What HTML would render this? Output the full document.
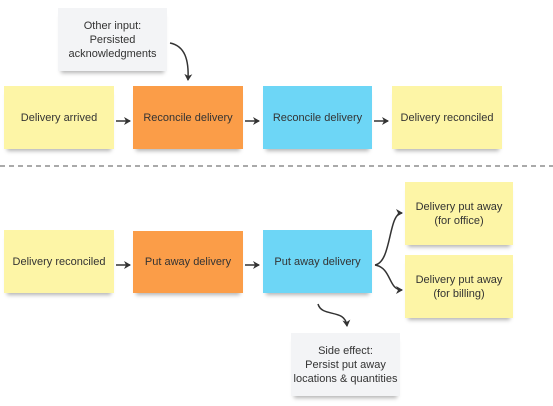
<!DOCTYPE html>
<html><head><style>
body{margin:0;width:553px;height:406px;background:#fff;position:relative;overflow:hidden;font-family:"Liberation Sans",sans-serif;font-size:11px;color:#333}
.b{position:absolute;display:flex;align-items:center;justify-content:center;text-align:center;line-height:14px;box-shadow:0 5px 4px -3px rgba(0,0,0,.3)}
.y{background:#fdf5a6}.o{background:#fb9d48}.c{background:#6dd6f6}.g{background:#f3f4f6}
</style></head><body>
<div class="b g" style="left:58px;top:8px;width:109px;height:63px">Other input:<br>Persisted<br>acknowledgments</div>
<div class="b y" style="left:4px;top:86px;width:110px;height:63px">Delivery arrived</div>
<div class="b o" style="left:133px;top:86px;width:110px;height:63px">Reconcile delivery</div>
<div class="b c" style="left:263px;top:86px;width:109px;height:63px">Reconcile delivery</div>
<div class="b y" style="left:392px;top:86px;width:110px;height:63px">Delivery reconciled</div>
<div class="b y" style="left:4px;top:230px;width:110px;height:63px">Delivery reconciled</div>
<div class="b o" style="left:133px;top:231px;width:110px;height:62px">Put away delivery</div>
<div class="b c" style="left:263px;top:230px;width:109px;height:63px">Put away delivery</div>
<div class="b y" style="left:405px;top:182px;width:108px;height:63px">Delivery put away<br>(for office)</div>
<div class="b y" style="left:405px;top:255px;width:108px;height:63px">Delivery put away<br>(for billing)</div>
<div class="b g" style="left:291px;top:333px;width:109px;height:63px">Side effect:<br>Persist put away<br>locations &amp; quantities</div>
<svg width="553" height="406" style="position:absolute;left:0;top:0">
<defs><marker id="a" markerWidth="8" markerHeight="8" refX="6" refY="4" orient="auto" markerUnits="userSpaceOnUse"><path d="M0,0L7,4L0,8L2,4z" fill="#333"/></marker></defs>
<g stroke="#333" stroke-width="1.5" fill="none" marker-end="url(#a)">
<path d="M116,121H130"/><path d="M245,121H259"/><path d="M374,121H388"/>
<path d="M116,265H130"/><path d="M245,265H259"/>
<path d="M170,43C185,46 189,60 188,80"/>
<path d="M375,265C392,262 388,213 402,213"/>
<path d="M375,265C392,268 388,290 402,290"/>
<path d="M318,304C322,318 345,308 347,326"/>
</g>
<path d="M0,166H553" stroke="#555" stroke-width="1" stroke-dasharray="5,4"/>
</svg>
</body></html>
